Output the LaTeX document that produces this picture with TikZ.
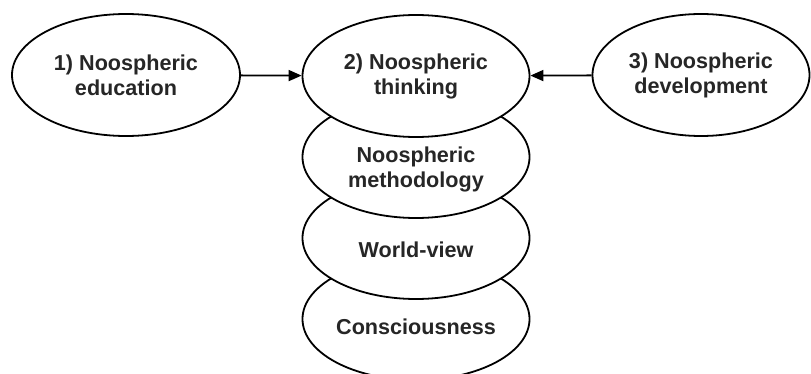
\documentclass[tikz,border=0pt]{standalone}
\usepackage{fontspec}
\setmainfont{Liberation Sans}
\usetikzlibrary{shapes.geometric, arrows.meta}

\tikzstyle{oval} = [ellipse, draw, line width=1.8pt, fill=white, inner sep=0pt, minimum width=227pt, minimum height=122pt]
\tikzstyle{caption} = [align=center, text=black!85, font=\fontsize{21.6}{25}\selectfont\bfseries]
\tikzstyle{link} = [-{Triangle[length=13pt,width=11pt]}, line width=1.8pt]

\begin{document}
\begin{tikzpicture}[x=1pt, y=-1pt]
        \useasboundingbox (0,0) rectangle (811,374);
        % Stack of layers, drawn from the bottom up
        \node (conscious) at (416,319) [oval] {};
        \node (view) at (416,238) [oval] {};
        \node (method) at (416,157) [oval] {};
        \node (think) at (416,76) [oval, caption] {2) Noospheric\\thinking};
        \node (conscious-txt) at (416,327) [caption] {Consciousness};
        \node (view-txt) at (416,250) [caption] {World-view};
        \node (method-txt) at (416,169) [caption] {Noospheric\\methodology};
        % Side ovals
        \node (edu) at (126,75) [oval, caption, minimum width=228pt] {1) Noospheric\\education};
        \node (devel) at (701,75) [oval, caption, minimum width=217pt] {3) Noospheric\\development};
        \draw[link] (edu) -- (think);
        \draw[link] (devel) -- (think);
    \end{tikzpicture}
\end{document}
